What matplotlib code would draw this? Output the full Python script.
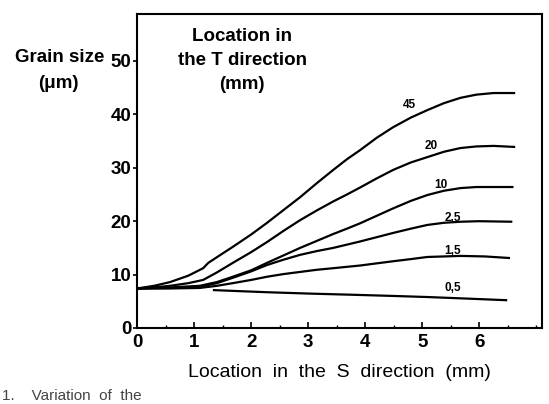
import matplotlib
matplotlib.use("Agg")
import matplotlib.pyplot as plt
from matplotlib.ticker import MultipleLocator

plt.rcParams['font.family'] = ['Liberation Sans', 'DejaVu Sans']

# ---- data ----
labels = ["45", "20", "10", "2,5", "1,5", "0,5"]

x45 = [0.0, 0.3, 0.58, 0.9, 1.16, 1.25, 1.45, 1.68, 2.0, 2.28, 2.57, 2.86, 3.15, 3.44,
       3.68, 3.91, 4.2, 4.49, 4.8, 5.09, 5.38, 5.67, 5.95, 6.25, 6.63]
y45 = [7.4, 7.9, 8.6, 9.8, 11.2, 12.2, 13.6, 15.2, 17.5, 19.7, 22.1, 24.5, 27.1, 29.6,
       31.6, 33.3, 35.6, 37.6, 39.4, 40.8, 42.1, 43.1, 43.7, 44.0, 44.0]

x20 = [0.0, 0.3, 0.58, 0.9, 1.16, 1.4, 1.68, 2.0, 2.28, 2.57, 2.86, 3.15, 3.44, 3.68,
       3.91, 4.2, 4.49, 4.8, 5.09, 5.38, 5.67, 5.95, 6.25, 6.63]
y20 = [7.4, 7.6, 7.9, 8.4, 9.0, 10.4, 12.2, 14.2, 16.1, 18.2, 20.2, 22.0, 23.7, 25.0,
       26.3, 28.0, 29.6, 31.0, 32.0, 33.0, 33.7, 34.0, 34.1, 33.9]

x10 = [0.0, 0.58, 1.1, 1.4, 1.68, 2.0, 2.28, 2.57, 2.86, 3.15, 3.44, 3.68, 3.91, 4.2,
       4.49, 4.8, 5.09, 5.38, 5.67, 5.95, 6.25, 6.6]
y10 = [7.4, 7.6, 7.9, 8.6, 9.6, 10.8, 12.2, 13.6, 15.0, 16.3, 17.6, 18.6, 19.6, 21.0,
       22.4, 23.8, 24.9, 25.7, 26.2, 26.4, 26.4, 26.4]

x25 = [0.0, 0.58, 1.1, 1.4, 1.68, 2.0, 2.28, 2.57, 2.86, 3.15, 3.44, 3.91, 4.2, 4.49,
       4.8, 5.09, 5.38, 5.67, 6.0, 6.58]
y25 = [7.4, 7.5, 7.7, 8.4, 9.4, 10.6, 11.8, 12.8, 13.7, 14.4, 15.0, 16.2, 17.0, 17.8,
       18.6, 19.3, 19.7, 19.9, 20.0, 19.9]

x15 = [0.0, 0.58, 1.1, 1.4, 1.68, 2.0, 2.28, 2.57, 2.86, 3.15, 3.44, 3.91, 4.2, 4.49,
       4.8, 5.09, 5.38, 5.67, 6.1, 6.54]
y15 = [7.4, 7.4, 7.5, 7.9, 8.4, 9.0, 9.6, 10.1, 10.5, 10.9, 11.2, 11.7, 12.1, 12.5,
       12.9, 13.3, 13.4, 13.5, 13.4, 13.1]

x05 = [1.33, 1.8, 2.28, 3.0, 3.86, 4.5, 5.09, 5.8, 6.49]
y05 = [7.1, 6.9, 6.7, 6.45, 6.2, 6.0, 5.8, 5.5, 5.2]

series_x = [x45, x20, x10, x25, x15, x05]
series_y = [y45, y20, y10, y25, y15, y05]

# label anchor positions (data coords)
label_x = [4.77, 5.16, 5.33, 5.54, 5.54, 5.53]
label_y = [41.8, 34.0, 26.8, 20.6, 14.4, 7.5]

xticks = [0, 1, 2, 3, 4, 5, 6]
yticks = [0, 10, 20, 30, 40, 50]

# ---- figure ----
W, H = 549, 404
fig = plt.figure(figsize=(W / 100, H / 100), dpi=100)
ax = fig.add_axes([137 / W, 1 - 328 / H, 405 / W, 314 / H])

for xs, ys in zip(series_x, series_y):
    ax.plot(xs, ys, color="black", lw=1.6, solid_capstyle="butt",
            solid_joinstyle="round")

for lab, lx, ly in zip(labels, label_x, label_y):
    ax.text(lx, ly, lab, fontsize=8.5, fontweight="bold", ha="center", va="center")

ax.set_xlim(0, 7.1)
ax.set_ylim(0, 58.8)

ax.set_xticks(xticks)
ax.set_xticklabels([str(v) for v in xticks], fontsize=13.5, fontweight="bold")
ax.xaxis.set_minor_locator(MultipleLocator(0.5))
ax.tick_params(axis="x", which="major", direction="in", length=4, width=1.2, pad=4)
ax.tick_params(axis="x", which="minor", direction="in", length=2.5, width=1.0)

ax.set_yticks(yticks)
ax.set_yticklabels([str(v) for v in yticks], fontsize=13.5, fontweight="bold")
ax.tick_params(axis="y", which="major", direction="out", length=3, width=1.2, pad=1)

for sp in ax.spines.values():
    sp.set_linewidth(1.5)

ax.set_xlabel("Location  in  the  S  direction  (mm)", fontsize=14,
              labelpad=10)

ax.text(0.26, 0.955, "Location in\nthe T direction\n(mm)", transform=ax.transAxes,
        ha="center", va="top", fontsize=13.5, fontweight="bold", linespacing=1.55)

fig.text(60 / W, 1 - 57 / H, "Grain size", ha="center", va="center",
         fontsize=13.5, fontweight="bold")
fig.text(58 / W, 1 - 84 / H, "(\u03bcm)", ha="center", va="center",
         fontsize=13.5, fontweight="bold")

fig.text(2 / W, 1 / H, "1.    Variation  of  the", ha="left", va="bottom",
         fontsize=11, color="#444444")

fig.savefig("out.png", dpi=100)
